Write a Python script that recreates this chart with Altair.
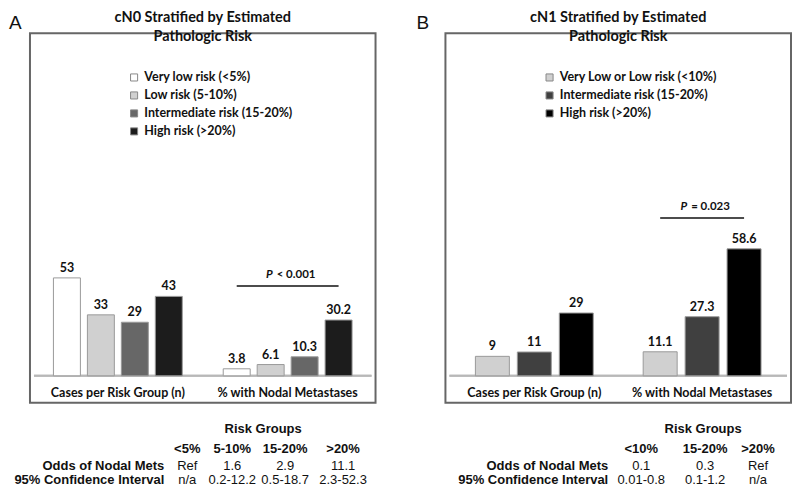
import altair as alt
import pandas as pd

# ---------------- data ----------------
groups = ["Cases per Risk Group (n)", "% with Nodal Metastases"]

a_risks = ["Very low risk (<5%)", "Low risk (5-10%)",
           "Intermediate risk (15-20%)", "High risk (>20%)"]
a_cases = [53, 33, 29, 43]
a_nodal = [3.8, 6.1, 10.3, 30.2]
a_colors = ["#ffffff", "#d0d0d0", "#676767", "#1c1c1c"]
a_title = ["cN0 Stratified by Estimated", "Pathologic Risk"]
a_p = "< 0.001"
a_pline = 48.6

b_risks = ["Very Low or Low risk (<10%)", "Intermediate risk (15-20%)",
           "High risk (>20%)"]
b_cases = [9, 11, 29]
b_nodal = [11.1, 27.3, 58.6]
b_colors = ["#d0d0d0", "#404040", "#000000"]
b_title = ["cN1 Stratified by Estimated", "Pathologic Risk"]
b_p = "= 0.023"
b_pline = 72.8

row_labels = ["Odds of Nodal Mets", "95% Confidence Interval"]
a_cols = ["<5%", "5-10%", "15-20%", ">20%"]
a_odds = ["Ref", "1.6", "2.9", "11.1"]
a_ci = ["n/a", "0.2-12.2", "0.5-18.7", "2.3-52.3"]
b_cols = ["<10%", "15-20%", ">20%"]
b_odds = ["0.1", "0.3", "Ref"]
b_ci = ["0.01-0.8", "0.1-1.2", "n/a"]

FONT = "Lato"
TFONT = "Liberation Sans"
W, H = 346, 370
ROW_DY = {"rg": 53, "hdr": 73, "r1": 90, "r2": 104}


def panel(k, letter, letter_dx, risks, cases, nodal, colors, title, ptxt, pline,
          ydom, spi, spo, mid_dx, legend_xy,
          cols, odds, ci, col_slots, col_dx, lbl_slot, lbl_dx, rg_slot, rg_dx):
    n = len(risks)
    S, R, V, L = "slot" + k, "risk" + k, "val" + k, "lab" + k
    slot_dom = ([f"0-{i}" for i in range(n)] + ["gap"] +
                [f"1-{i}" for i in range(n)])
    df = pd.DataFrame({
        S: [f"{g}-{i}" for g in range(2) for i in range(n)],
        R: risks + risks,
        V: cases + nodal,
        L: [str(v) for v in cases] + [f"{v:.1f}" for v in nodal],
    })
    x = alt.X(f"{S}:N", axis=None,
              scale=alt.Scale(domain=slot_dom, paddingInner=spi,
                              paddingOuter=spo))
    y = alt.Y(f"{V}:Q", axis=None,
              scale=alt.Scale(domain=ydom, nice=False, zero=False))
    base = alt.Chart(df)
    bars = base.mark_bar(stroke="#9a9a9a", strokeWidth=1).encode(
        x=x, y=y, y2=alt.datum(0),
        color=alt.Color(f"{R}:N",
                        scale=alt.Scale(domain=risks, range=colors),
                        legend=alt.Legend(
                            title=None, orient="none",
                            legendX=legend_xy[0], legendY=legend_xy[1],
                            symbolType="square", symbolSize=50,
                            symbolStrokeColor="#888", symbolStrokeWidth=1,
                            labelFont=FONT, labelFontSize=12.5,
                            labelFontWeight="bold", labelColor="#111",
                            labelOffset=4, rowPadding=5, padding=0,
                            labelLimit=300)),
    )
    vals = base.mark_text(font=FONT, fontSize=12.5, fontWeight="bold",
                          baseline="bottom", dy=-3, color="#111").encode(
        x=x, y=y, text=f"{L}:N")

    mid = (n - 1) // 2
    gdf = pd.DataFrame({S: [f"0-{mid}", f"1-{mid}"], "grp": groups,
                        V: [0, 0]})
    glab = alt.Chart(gdf).mark_text(font=FONT, fontSize=12.5, fontWeight="bold",
                                    baseline="middle", dx=mid_dx, dy=17,
                                    color="#111").encode(
        x=x, y=y, text="grp:N")
    baseline = alt.Chart(gdf).mark_rule(color="#b8b8b8", strokeWidth=2).encode(
        y=y, x=alt.value(4), x2=alt.value(W - 4))

    pdf = pd.DataFrame({S: ["1-0"], "s2": [f"1-{n - 1}"], "smid": [f"1-{mid}"],
                        "p": ["P"], "rest": [ptxt], V: [pline]})
    pline_m = alt.Chart(pdf).mark_rule(color="#111", strokeWidth=1.5).encode(
        x=x, x2=alt.X2("s2:N"), y=y)
    xm = alt.X("smid:N", axis=None,
               scale=alt.Scale(domain=slot_dom, paddingInner=spi,
                               paddingOuter=spo))
    pP = alt.Chart(pdf).mark_text(font=FONT, fontSize=11.5, fontWeight="bold",
                                  fontStyle="italic", align="right",
                                  baseline="middle", dx=mid_dx - 15, dy=-11,
                                  color="#111").encode(
        x=xm, y=y, text="p:N")
    pR = alt.Chart(pdf).mark_text(font=FONT, fontSize=11.5, fontWeight="bold",
                                  align="left", baseline="middle",
                                  dx=mid_dx - 11, dy=-11,
                                  color="#111").encode(
        x=xm, y=y, text="rest:N")

    # panel letter
    ldf = pd.DataFrame({"t": [letter]})
    let = alt.Chart(ldf).mark_text(font=TFONT, fontSize=19, align="left",
                                   baseline="alphabetic", color="#111").encode(
        x=alt.value(letter_dx), y=alt.value(-4), text="t:N")

    # ----- table below the box, anchored to the baseline -----
    def cell(slot, dx, row, text, bold, align="center"):
        d = pd.DataFrame({S: [slot], V: [0], "t": [text]})
        return alt.Chart(d).mark_text(
            font=TFONT, fontSize=13,
            fontWeight="bold" if bold else "normal",
            align=align, baseline="middle", dx=dx, dy=ROW_DY[row],
            color="#111").encode(x=x, y=y, text="t:N")

    cells = [cell(rg_slot, rg_dx, "rg", "Risk Groups", True)]
    for j, c in enumerate(cols):
        cells.append(cell(col_slots[j], col_dx[j], "hdr", c, True))
        cells.append(cell(col_slots[j], col_dx[j], "r1", odds[j], False))
        cells.append(cell(col_slots[j], col_dx[j], "r2", ci[j], False))
    cells.append(cell(lbl_slot, lbl_dx, "r1", row_labels[0], True, "right"))
    cells.append(cell(lbl_slot, lbl_dx, "r2", row_labels[1], True, "right"))

    return alt.layer(baseline, bars, vals, glab, pline_m, pP, pR, let,
                     *cells).properties(
        width=W, height=H,
        title=alt.TitleParams(title, font=FONT, fontSize=14.5,
                              fontWeight="bold", color="#111",
                              anchor="middle", offset=-30, lineHeight=19),
        view=alt.ViewBackground(stroke="#666", strokeWidth=2),
    )


pa = panel("A", "A", -21, a_risks, a_cases, a_nodal, a_colors, a_title, a_p,
           a_pline, [-14.6, 185.4], 0.206, 0.691, 17, (98, 38),
           a_cols, a_odds, a_ci, ["gap", "1-0", "1-1", "1-3"],
           [-15.5, -4.5, 14.5, 4.5], "0-3", -4.5, "1-1", -7.5)
pb = panel("B", "B", -29, b_risks, b_cases, b_nodal, b_colors, b_title, b_p,
           b_pline, [-12.44, 158.1], 0.19, 0.714, 0, (98, 38),
           b_cols, b_odds, b_ci, ["gap", "1-1", "1-2"],
           [23, 3, 14], "gap", -10, "1-1", 1)

chart = alt.hconcat(pa, pb, spacing=39).resolve_scale(
    x="independent", y="independent", color="independent").properties(
    padding=0, background="white")

chart.save("out.html", embed_options={"renderer": "svg", "actions": False})
